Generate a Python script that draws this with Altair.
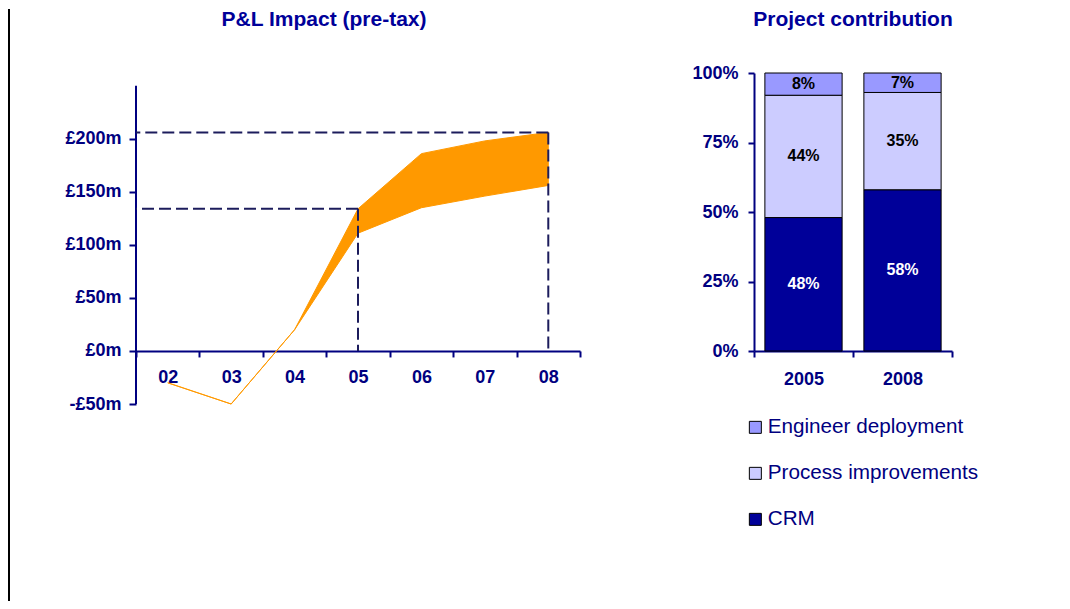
import altair as alt
import pandas as pd

# ---------------- data ----------------
years = ["02", "03", "04", "05", "06", "07", "08"]
upper = [-30, -50, 20, 134, 186, 198, 206]
lower = [-30, -50, 20, 111, 135, 146, 156]
marker_years = ["05", "08"]
y_ticks = [-50, 0, 50, 100, 150, 200]
y_axis_extent = [-50, 250]

bar_years = ["2005", "2008"]
crm = [48, 58]
process = [44, 35]
engineer = [8, 7]
legend_order = ["Engineer deployment", "Process improvements", "CRM"]
pct_ticks = [0, 25, 50, 75, 100]

left_title = "P&L Impact (pre-tax)"
right_title = "Project contribution"

# ---------------- styles ----------------
NAVY = "#000080"
TITLE_C = "#000099"
FONT = "Liberation Sans"
ORANGE = "#FF9900"
DASH_C = "#1C1C5C"
COLORS = ["#9999FF", "#CCCCFF", "#000099"]

LW, LH = 444, 331
RW, RH = 198, 278
YMIN, YMAX = -50, 262
TOP = -64  # title / frame top, relative to plot top

# ---------------- left chart ----------------
pl = pd.DataFrame({"year": years, "upper": upper, "lower": lower})
mk = pd.DataFrame({"year": marker_years,
                   "value": [upper[years.index(y)] for y in marker_years]})
ext = pd.DataFrame({"lo": [y_axis_extent[0]], "hi": [y_axis_extent[1]]})

x_axis = alt.Axis(title=None, labelAngle=0, tickBand="extent", domainColor=NAVY,
                  domainWidth=2, tickColor=NAVY, tickWidth=2, tickSize=6,
                  labelFont=FONT, labelFontSize=18, labelFontWeight="bold",
                  labelColor=NAVY, labelPadding=12,
                  offset=-LH * (0 - YMIN) / (YMAX - YMIN))
xl = alt.X("year:O", bandPosition=0.5, sort=years,
           scale=alt.Scale(type="band", paddingInner=0, paddingOuter=0),
           axis=x_axis)
y_axis = alt.Axis(title=None, values=y_ticks, grid=False, domain=False,
                  tickColor=NAVY, tickWidth=2, tickSize=7,
                  labelFont=FONT, labelFontSize=18, labelFontWeight="bold",
                  labelColor=NAVY, labelPadding=8, labelFlush=False,
                  labelExpr="datum.value < 0 ? '-£' + (-datum.value) + 'm' : '£' + datum.value + 'm'")
yscale = alt.Scale(domain=[YMIN, YMAX], nice=False, zero=False)

area = alt.Chart(pl).mark_area(color=ORANGE, stroke=ORANGE, strokeWidth=1, opacity=1).encode(
    x=xl,
    y=alt.Y("upper:Q", scale=yscale, axis=y_axis),
    y2="lower:Q",
)
yline = alt.Chart(ext).mark_rule(color=NAVY, strokeWidth=2).encode(
    x=alt.value(0),
    y=alt.Y("lo:Q", scale=yscale, axis=y_axis),
    y2="hi:Q",
)
hrule = alt.Chart(mk).mark_rule(color=DASH_C, strokeWidth=2, strokeDash=[12, 5]).encode(
    x=xl, x2=alt.value(0),
    y=alt.Y("value:Q", scale=yscale, axis=y_axis),
)
vrule = alt.Chart(mk).mark_rule(color=DASH_C, strokeWidth=2, strokeDash=[12, 5]).encode(
    x=xl,
    y=alt.Y("value:Q", scale=yscale, axis=y_axis),
    y2=alt.datum(0),
)
border = alt.Chart(pd.DataFrame({"k": [0]})).mark_rule(color="black", strokeWidth=2).encode(
    x=alt.value(-127), y=alt.value(TOP), y2=alt.value(528)
)
ltitle = alt.Chart(pd.DataFrame({"t": [left_title]})).mark_text(
    font=FONT, fontSize=21, fontWeight="bold", color=TITLE_C, baseline="top"
).encode(text="t:N", x=alt.value(188), y=alt.value(TOP))

left = alt.layer(border, area, yline, hrule, vrule, ltitle).properties(width=LW, height=LH)

# ---------------- right chart ----------------
rows = []
for i, yr in enumerate(bar_years):
    rows.append({"year": yr, "category": "CRM", "value": crm[i], "ord": 0})
    rows.append({"year": yr, "category": "Process improvements", "value": process[i], "ord": 1})
    rows.append({"year": yr, "category": "Engineer deployment", "value": engineer[i], "ord": 2})
bars = pd.DataFrame(rows)

base = alt.Chart(bars).transform_stack(
    stack="value", groupby=["year"], sort=[alt.SortField("ord", order="ascending")],
    as_=["y0", "y1"]
).transform_calculate(mid="(datum.y0 + datum.y1) / 2", label="datum.value + '%'")

xb = alt.X("year:N", sort=bar_years,
           scale=alt.Scale(type="band", paddingInner=0, paddingOuter=0),
           axis=alt.Axis(title=None, labelAngle=0, tickBand="extent", domainColor=NAVY,
                         domainWidth=2, tickColor=NAVY, tickWidth=2, tickSize=6,
                         labelFont=FONT, labelFontSize=18, labelFontWeight="bold",
                         labelColor=NAVY, labelPadding=13))
yb_axis = alt.Axis(title=None, values=pct_ticks, grid=False, domainColor=NAVY,
                   domainWidth=2, tickColor=NAVY, tickWidth=2, tickSize=6,
                   labelFont=FONT, labelFontSize=18, labelFontWeight="bold",
                   labelColor=NAVY, labelPadding=10, labelFlush=False,
                   labelExpr="datum.value + '%'")
ybscale = alt.Scale(domain=[0, 100], nice=False)

barl = base.mark_bar(stroke="black", strokeWidth=1, width=alt.RelativeBandSize(0.78)).encode(
    x=xb,
    y=alt.Y("y0:Q", scale=ybscale, axis=yb_axis),
    y2="y1:Q",
    color=alt.Color("category:N", scale=alt.Scale(domain=legend_order, range=COLORS),
                    legend=alt.Legend(title=None, orient="none", legendX=-9, legendY=344,
                                      symbolType="square", symbolSize=144,
                                      symbolStrokeColor="black", symbolStrokeWidth=1,
                                      labelFont=FONT, labelFontSize=20.7, labelColor=NAVY,
                                      labelLimit=400, rowPadding=24, labelOffset=2,
                                      padding=0)),
)
txt = base.mark_text(font=FONT, fontSize=16, fontWeight="bold", baseline="middle").encode(
    x=xb,
    y=alt.Y("mid:Q", scale=ybscale, axis=yb_axis),
    text="label:N",
    color=alt.condition("datum.category === 'CRM'", alt.value("white"), alt.value("black")),
)
rtitle = alt.Chart(pd.DataFrame({"t": [right_title]})).mark_text(
    font=FONT, fontSize=21, fontWeight="bold", color=TITLE_C, baseline="top"
).encode(text="t:N", x=alt.value(RW / 2), y=alt.value(TOP))

right = alt.layer(barl, txt, rtitle).properties(width=RW, height=RH)

chart = alt.hconcat(left, right, spacing=110).resolve_legend(
    color="independent"
).resolve_scale(color="independent").properties(padding=0).configure_view(
    stroke=None
).configure_axis(grid=False)

chart.save("out.html", embed_options={"renderer": "svg", "actions": False})
